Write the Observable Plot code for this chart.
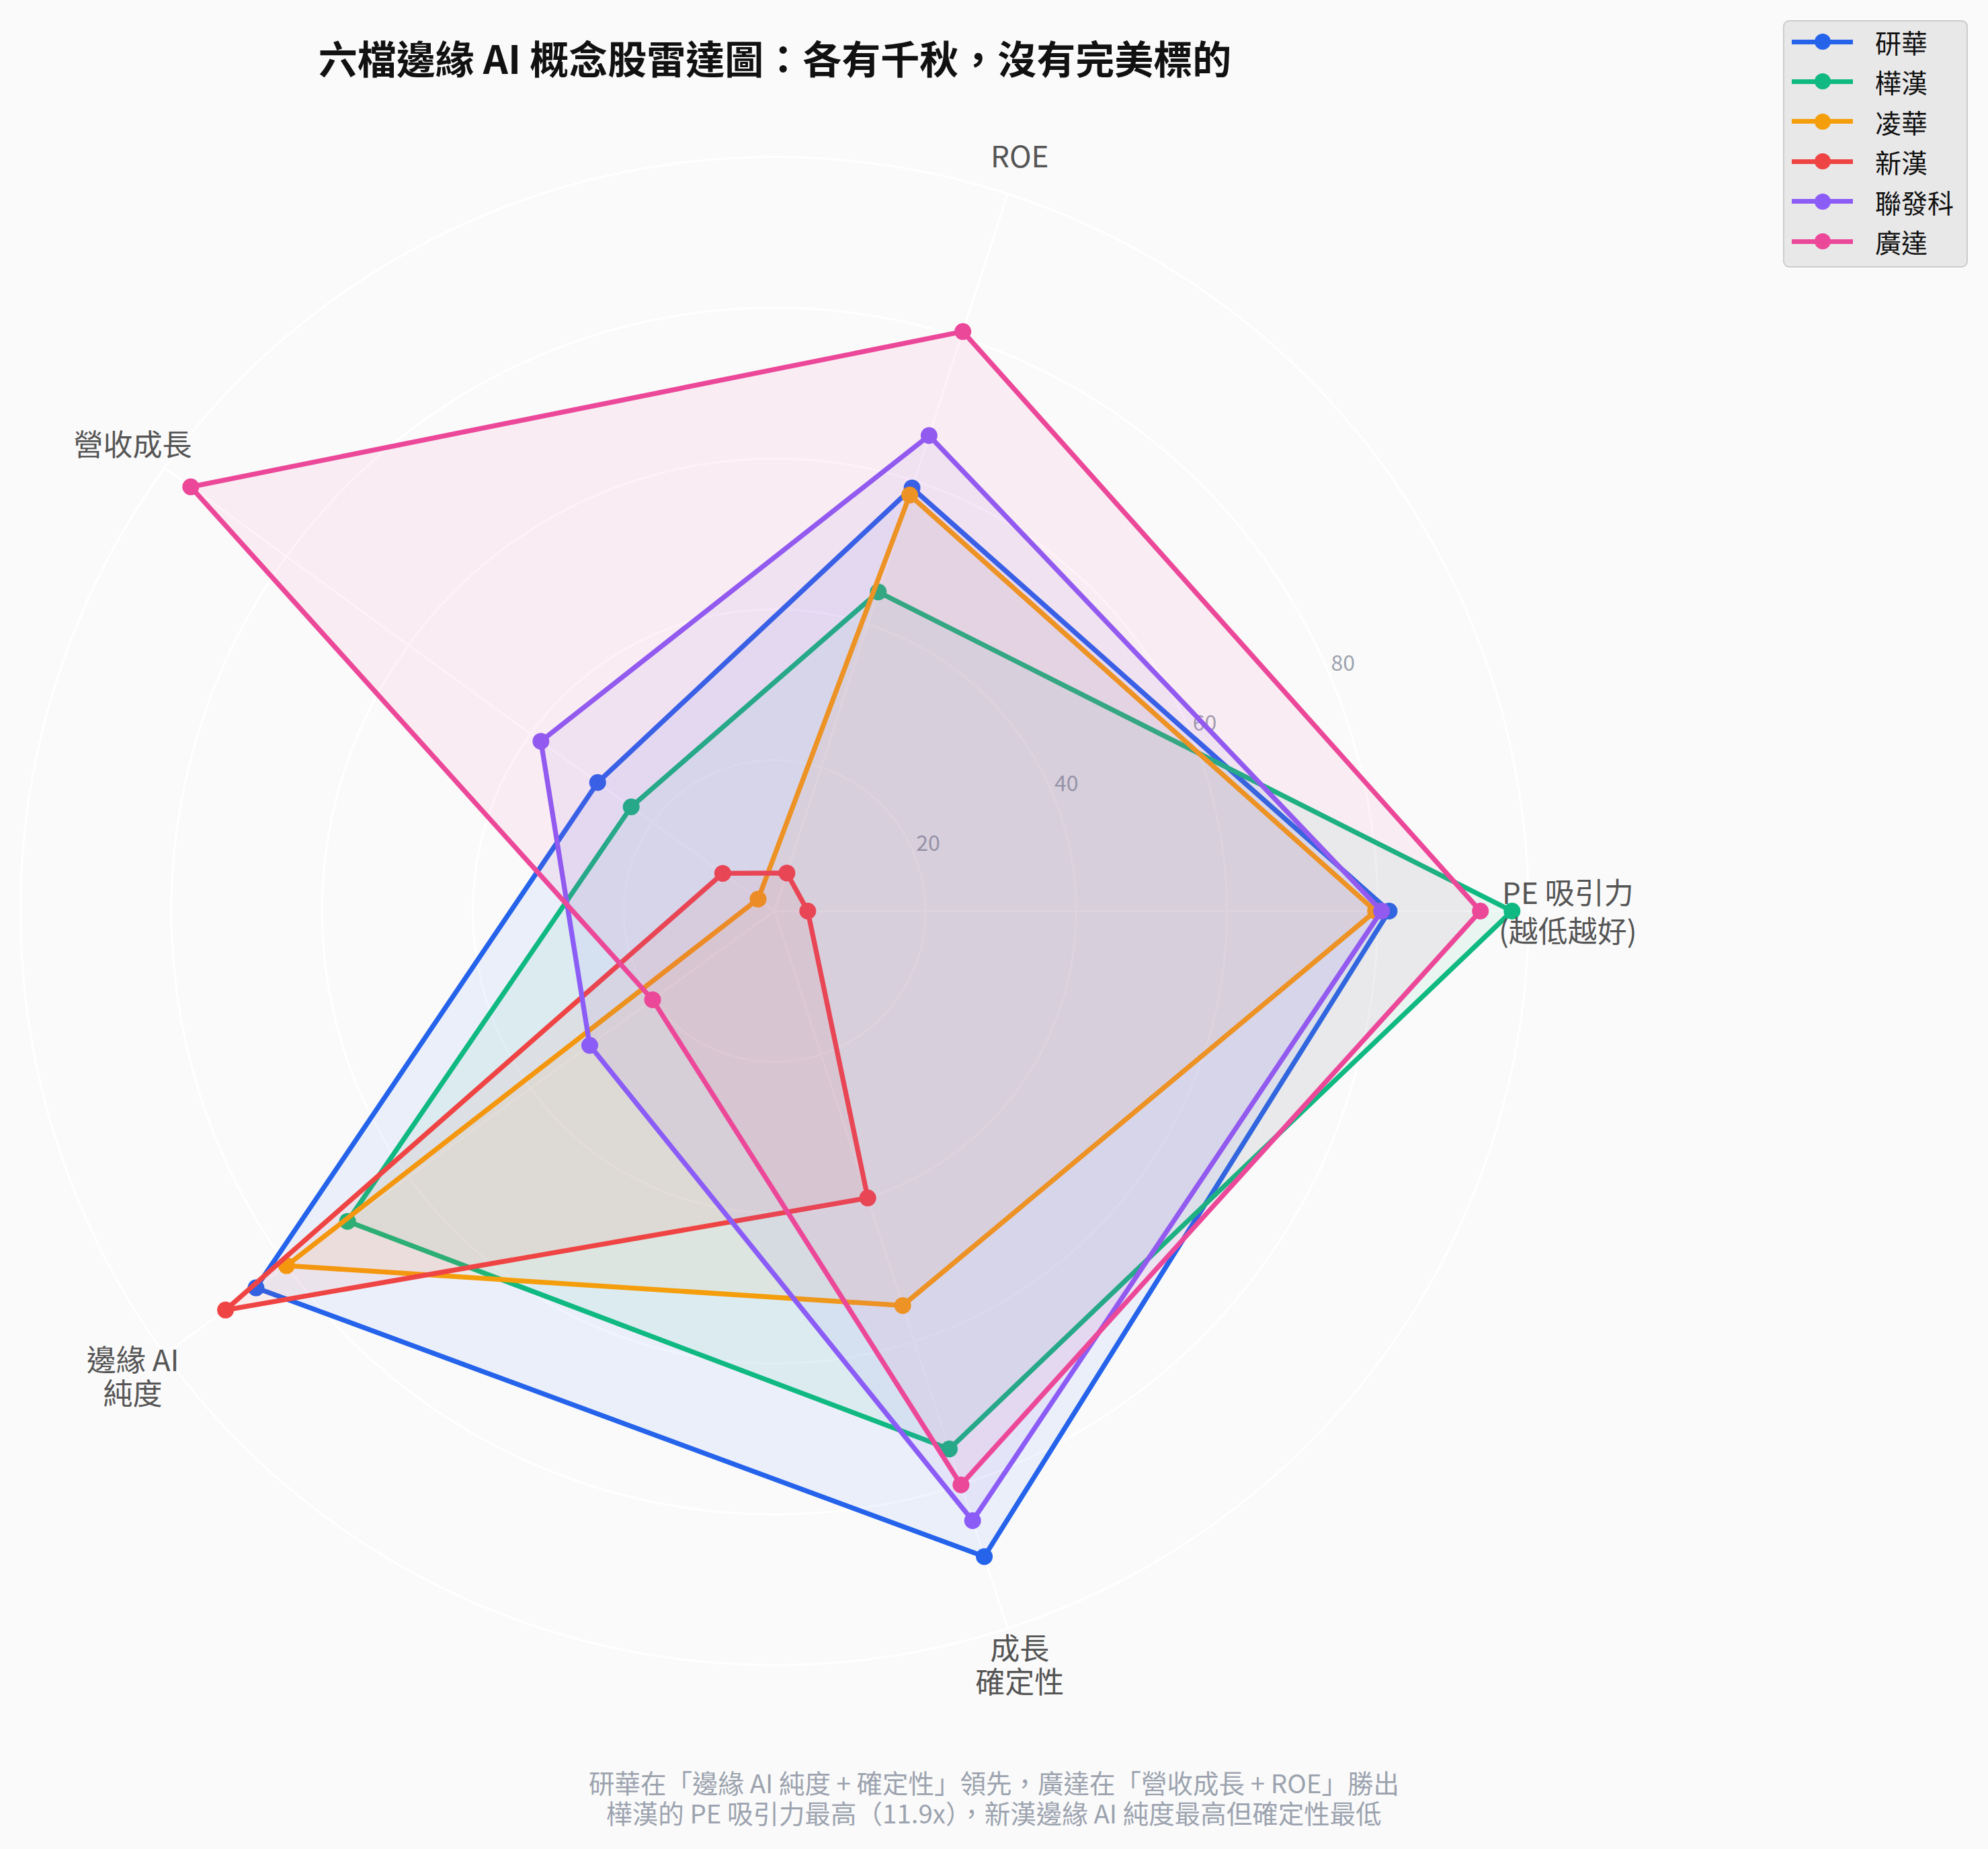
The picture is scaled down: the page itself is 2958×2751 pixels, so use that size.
<!DOCTYPE html>
<html>
<head>
<meta charset="utf-8">
<script src="https://cdn.jsdelivr.net/npm/d3@7"></script>
<script src="https://cdn.jsdelivr.net/npm/@observablehq/plot@0.6"></script>
<style>
  html, body { margin: 0; padding: 0; background: #fafafa; }
  body { font-family: "Noto Sans CJK TC", "Noto Sans", sans-serif; }
  #wrap { position: relative; width: 2958px; height: 2751px; background: #fafafa; overflow: hidden; }
  #chart { position: absolute; left: 0; top: 0; }
  #title { position: absolute; left: 0; top: 54px; width: 2306px; text-align: center; font-size: 58px; font-weight: bold; color: #111; line-height: 1.1; }
  #footer { position: absolute; left: 0; top: 2629px; width: 2958px; text-align: center; font-size: 38.5px; color: #9ca3af; line-height: 45px; }
  #legend { position: absolute; left: 2653px; top: 30px; width: 271px; height: 364px; background: #e8e8e8; border: 2px solid #cccccc; border-radius: 9px; }
  .row { position: absolute; left: 0; height: 60px; width: 100%; }
  .ln { position: absolute; left: 11px; top: 26.5px; width: 91px; height: 7px; }
  .dt { position: absolute; left: 45px; top: 18px; width: 24px; height: 24px; border-radius: 50%; }
  .lb { position: absolute; left: 135px; top: 0; line-height: 60px; font-size: 39px; color: #111; }
</style>
</head>
<body>
<div id="wrap">
  <div id="chart"></div>
  <div id="title"></div>
  <div id="legend"></div>
  <div id="footer"></div>
</div>
<script>
// ---- data ----
const axes = ["PE 吸引力\n(越低越好)", "ROE", "營收成長", "邊緣 AI\n純度", "成長\n確定性"];
const companies = ["研華", "樺漢", "凌華", "新漢", "聯發科", "廣達"];
const colors = ["#2563eb", "#10b981", "#f59e0b", "#ef4444", "#8b5cf6", "#ec4899"];
const advantech = [81.5, 59.0, 29.0, 85.0, 90.0];   // 研華
const ennoconn  = [97.8, 44.5, 23.5, 70.0, 75.0];   // 樺漢
const adlink    = [79.7, 58.0, 2.7, 80.0, 55.0];    // 凌華
const nexcom    = [4.4, 5.3, 8.5, 90.0, 40.0];      // 新漢
const mediatek  = [80.5, 66.3, 38.3, 30.3, 85.0];   // 聯發科
const quanta    = [93.6, 80.8, 95.7, 20.0, 80.0];   // 廣達
const seriesValues = [advantech, ennoconn, adlink, nexcom, mediatek, quanta];
const radialTicks = [20, 40, 60, 80];
const gridLevels = [20, 40, 60, 80, 100];
const rMax = 100;
const titleText = "六檔邊緣 AI 概念股雷達圖：各有千秋，沒有完美標的";
const footerLines = [
  "研華在「邊緣 AI 純度 + 確定性」領先，廣達在「營收成長 + ROE」勝出",
  "樺漢的 PE 吸引力最高（11.9x），新漢邊緣 AI 純度最高但確定性最低"
];

// ---- layout ----
const W = 2958, H = 2751;
const cx = 1152, cy = 1355, Rpx = 1122;
const unit = Rpx / rMax;
const n = axes.length;
const ang = i => (i * 2 * Math.PI) / n;
const px = (r, a) => r * Math.cos(a);
const py = (r, a) => r * Math.sin(a);

const rows = companies.flatMap((c, ci) =>
  seriesValues[ci].map((v, i) => ({company: c, ci, i, v}))
);

const grid = gridLevels.flatMap(level =>
  d3.range(0, 361, 1).map(deg => ({level, a: deg * Math.PI / 180}))
);
const spokes = axes.map((d, i) => ({i}));
const tickAng = 23.5 * Math.PI / 180;
const labelR = 105.2;
const axisLabels = axes.map((label, i) => ({label, i}));

const seriesMarks = companies.flatMap((c, ci) => {
  const data = rows.filter(d => d.ci === ci);
  const X = d => px(d.v, ang(d.i));
  const Y = d => py(d.v, ang(d.i));
  return [
    Plot.line(data, {x: X, y: Y, curve: "linear-closed", fill: colors[ci], fillOpacity: 0.07, stroke: "none"}),
    Plot.line(data, {x: X, y: Y, curve: "linear-closed", stroke: colors[ci], strokeWidth: 7.3, strokeLinejoin: "round"}),
    Plot.dot(data, {x: X, y: Y, r: 12.5, fill: colors[ci], stroke: "none"})
  ];
});

const labelOpts = (lh) => ({
  x: d => px(labelR, ang(d.i)), y: d => py(labelR, ang(d.i)), text: d => d.label,
  fill: "#555555", fontSize: 44, lineHeight: lh, textAnchor: "middle"
});

const chart = Plot.plot({
  width: W,
  height: H,
  margin: 0,
  style: {background: "#fafafa", fontFamily: "'Noto Sans CJK TC', 'Noto Sans', sans-serif"},
  x: {domain: [-cx / unit, (W - cx) / unit], range: [0, W], axis: null},
  y: {domain: [-(H - cy) / unit, cy / unit], range: [H, 0], axis: null},
  marks: [
    Plot.line(grid, {x: d => px(d.level, d.a), y: d => py(d.level, d.a), z: "level", stroke: "#ffffff", strokeWidth: 3}),
    Plot.link(spokes, {x1: 0, y1: 0, x2: d => px(rMax, ang(d.i)), y2: d => py(rMax, ang(d.i)), stroke: "#ffffff", strokeWidth: 3}),
    Plot.text(radialTicks, {x: d => px(d + 2.2, tickAng), y: d => py(d + 2.2, tickAng), text: d => String(d), fill: "#9ca3af", fontSize: 32, textAnchor: "middle"}),
    ...seriesMarks,
    Plot.text(axisLabels.filter(d => d.i === 0), labelOpts(1.3)),
    Plot.text(axisLabels.filter(d => d.i !== 0), labelOpts(1.14))
  ]
});
document.getElementById("chart").appendChild(chart);

document.getElementById("title").textContent = titleText;
document.getElementById("footer").innerHTML = footerLines.map(s => `<div>${s}</div>`).join("");

const legend = document.getElementById("legend");
companies.forEach((c, ci) => {
  const row = document.createElement("div");
  row.className = "row";
  row.style.top = (62 + ci * 59.4 - 32 - 30) + "px";
  row.innerHTML = `<div class="ln" style="background:${colors[ci]}"></div><div class="dt" style="background:${colors[ci]}"></div><div class="lb">${c}</div>`;
  legend.appendChild(row);
});
</script>
</body>
</html>
